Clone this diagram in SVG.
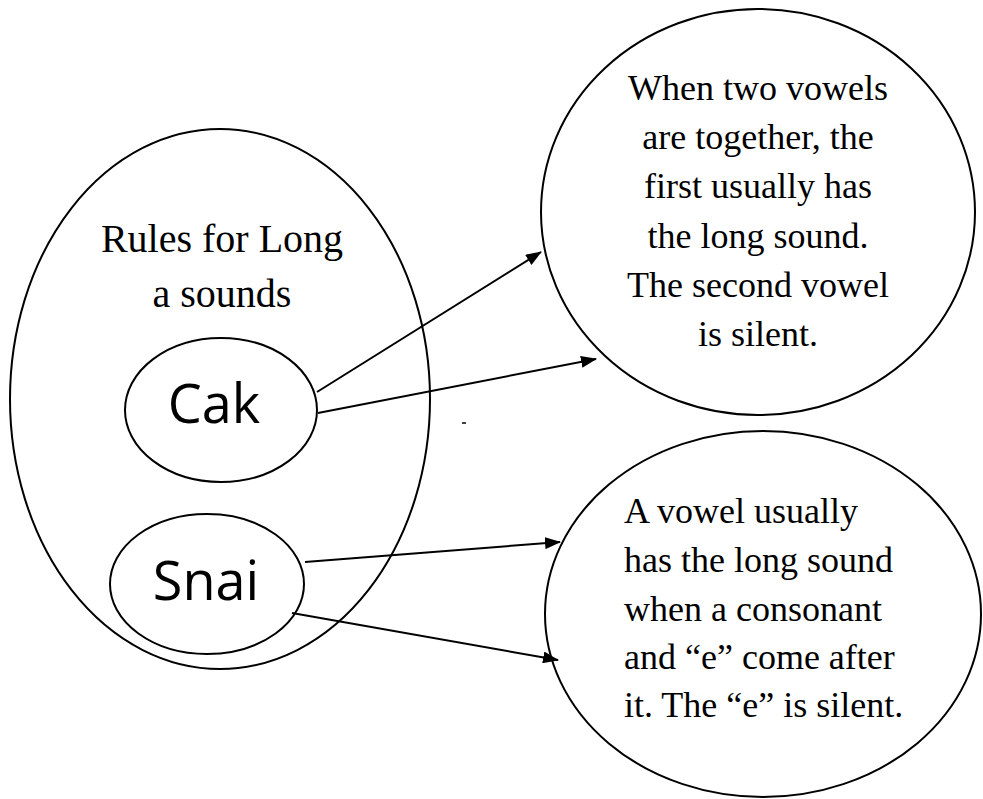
<svg xmlns="http://www.w3.org/2000/svg" width="983" height="799" viewBox="0 0 983 799">
  <style>
    .shape { fill: none; stroke: #000; stroke-width: 2; }
    .serif { font-family: "Liberation Serif", "Times New Roman", serif; fill: #000; }
    .sans { font-family: "Open Sans", "Noto Sans", sans-serif; fill: #000; }
    .link { stroke: #000; stroke-width: 2; fill: none; marker-end: url(#head); }
  </style>
  <defs>
    <marker id="head" viewBox="0 0 16 12" refX="15" refY="6" markerWidth="16" markerHeight="12" markerUnits="userSpaceOnUse" orient="auto">
      <path d="M0,0 L16,6 L0,12 Z" fill="#000"/>
    </marker>
  </defs>

  <rect width="983" height="799" fill="#fff"/>

  <g id="rules">
    <ellipse class="shape" cx="220" cy="399" rx="210" ry="270"/>
    <text class="serif" font-size="40" text-anchor="middle" x="222" y="252">Rules for Long</text>
    <text class="serif" font-size="40" text-anchor="middle" x="222" y="307">a sounds</text>
  </g>

  <g id="cak">
    <ellipse class="shape" cx="221" cy="410" rx="96" ry="72"/>
    <text class="sans" font-size="54" text-anchor="middle" x="214" y="423">Cak</text>
  </g>

  <g id="snai">
    <ellipse class="shape" cx="207" cy="584" rx="97" ry="70"/>
    <text class="sans" font-size="54" text-anchor="middle" x="206" y="600">Snai</text>
  </g>

  <g id="rule-two-vowels">
    <ellipse class="shape" cx="758" cy="212" rx="217" ry="203"/>
    <g class="serif" font-size="36" text-anchor="middle">
      <text x="758" y="100">When two vowels</text>
      <text x="758" y="149">are together, the</text>
      <text x="758" y="198">first usually has</text>
      <text x="758" y="248">the long sound.</text>
      <text x="758" y="297">The second vowel</text>
      <text x="758" y="346">is silent.</text>
    </g>
  </g>

  <g id="rule-silent-e">
    <ellipse class="shape" cx="763" cy="614" rx="218" ry="183"/>
    <g class="serif" font-size="36">
      <text x="624" y="523">A vowel usually</text>
      <text x="624" y="572">has the long sound</text>
      <text x="624" y="621">when a consonant</text>
      <text x="624" y="669">and “e” come after</text>
      <text x="624" y="717">it. The “e” is silent.</text>
    </g>
  </g>

  <g id="connectors">
    <line class="link" x1="317" y1="392" x2="541" y2="252"/>
    <line class="link" x1="318" y1="413" x2="596" y2="359"/>
    <line class="link" x1="305" y1="562" x2="560" y2="542"/>
    <line class="link" x1="292" y1="613" x2="558" y2="660"/>
  </g>

  <line x1="462" y1="423" x2="466" y2="423" stroke="#000" stroke-width="1.5"/>
</svg>
